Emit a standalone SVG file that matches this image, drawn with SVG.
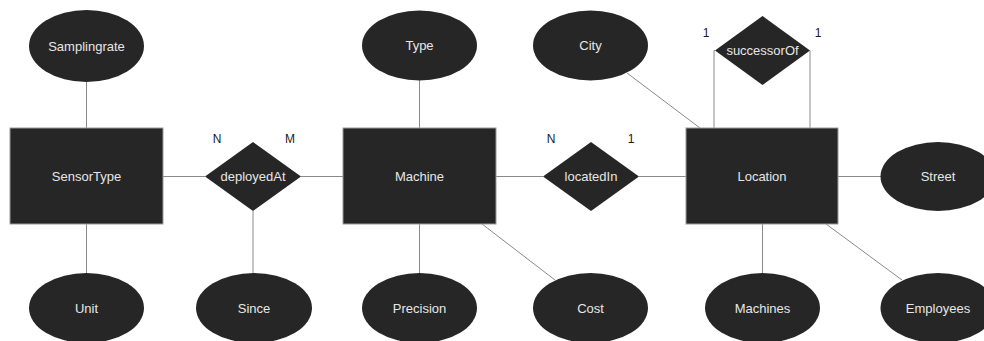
<svg xmlns="http://www.w3.org/2000/svg" width="984" height="341" viewBox="0 0 984 341">
  <style>
    .ent { fill: #262626; stroke: #9a9a9a; stroke-width: 1; }
    .rel { fill: #262626; }
    .att { fill: #262626; }
    .lbl { font-family: "Liberation Sans", Arial, sans-serif; font-size: 13px; fill: #e6e6e6; text-anchor: middle; dominant-baseline: central; }
    .card { font-family: "Liberation Sans", Arial, sans-serif; font-size: 12px; fill: #1a1a1a; text-anchor: middle; dominant-baseline: central; }
    .conn line, .conn polyline { stroke: #8a8a8a; stroke-width: 1; fill: none; }
  </style>
  <rect width="984" height="341" fill="#ffffff"/>

  <!-- connectors -->
  <g id="connectors" class="conn">
    <line x1="86.5" y1="82" x2="86.5" y2="128"/>
    <line x1="86.5" y1="224" x2="86.5" y2="273"/>
    <line x1="163" y1="176.5" x2="205" y2="176.5"/>
    <line x1="301" y1="176.5" x2="343" y2="176.5"/>
    <line x1="253" y1="211" x2="253" y2="273"/>
    <line x1="419.5" y1="80" x2="419.5" y2="128"/>
    <line x1="419.5" y1="224" x2="419.5" y2="273"/>
    <line x1="482" y1="224" x2="555" y2="280"/>
    <line x1="496" y1="176.5" x2="543" y2="176.5"/>
    <line x1="639" y1="176.5" x2="686" y2="176.5"/>
    <line x1="627" y1="73" x2="700" y2="128"/>
    <polyline points="714,128 714,50.5 715,50.5"/>
    <polyline points="810,128 810,50.5"/>
    <line x1="838" y1="176.5" x2="881" y2="176.5"/>
    <line x1="762.5" y1="224" x2="762.5" y2="273"/>
    <line x1="826" y1="224" x2="902" y2="280"/>
  </g>

  <!-- entities -->
  <g id="SensorType">
    <rect class="ent" x="10" y="128" width="153" height="96"/>
    <text class="lbl" x="86.5" y="176.5">SensorType</text>
  </g>
  <g id="Machine">
    <rect class="ent" x="343" y="128" width="153" height="96"/>
    <text class="lbl" x="419.5" y="176.5">Machine</text>
  </g>
  <g id="Location">
    <rect class="ent" x="686" y="128" width="152" height="96"/>
    <text class="lbl" x="762" y="176.5">Location</text>
  </g>

  <!-- relationships -->
  <g id="deployedAt">
    <polygon class="rel" points="253,142 301,176.5 253,211 205,176.5"/>
    <text class="lbl" x="253" y="176.5">deployedAt</text>
  </g>
  <g id="locatedIn">
    <polygon class="rel" points="591,142 639,176.5 591,211 543,176.5"/>
    <text class="lbl" x="591" y="176.5">locatedIn</text>
  </g>
  <g id="successorOf">
    <polygon class="rel" points="762.5,16 810,50.5 762.5,85 715,50.5"/>
    <text class="lbl" x="762.5" y="50.5">successorOf</text>
  </g>

  <!-- attributes -->
  <g id="Samplingrate">
    <ellipse class="att" cx="86.5" cy="46" rx="57.5" ry="36"/>
    <text class="lbl" x="86.5" y="46">Samplingrate</text>
  </g>
  <g id="Unit">
    <ellipse class="att" cx="86.5" cy="308" rx="57.5" ry="35"/>
    <text class="lbl" x="86.5" y="308">Unit</text>
  </g>
  <g id="Since">
    <ellipse class="att" cx="254" cy="308" rx="58" ry="35"/>
    <text class="lbl" x="254" y="308">Since</text>
  </g>
  <g id="Type">
    <ellipse class="att" cx="419.5" cy="45.5" rx="57.5" ry="35"/>
    <text class="lbl" x="419.5" y="45.5">Type</text>
  </g>
  <g id="Precision">
    <ellipse class="att" cx="419.5" cy="308" rx="57.5" ry="35"/>
    <text class="lbl" x="419.5" y="308">Precision</text>
  </g>
  <g id="City">
    <ellipse class="att" cx="590.5" cy="45.5" rx="57.5" ry="35"/>
    <text class="lbl" x="590.5" y="45.5">City</text>
  </g>
  <g id="Cost">
    <ellipse class="att" cx="590.5" cy="308" rx="57.5" ry="35"/>
    <text class="lbl" x="590.5" y="308">Cost</text>
  </g>
  <g id="Street">
    <ellipse class="att" cx="938" cy="176.5" rx="57.5" ry="34.5"/>
    <text class="lbl" x="938" y="176.5">Street</text>
  </g>
  <g id="Machines">
    <ellipse class="att" cx="762.5" cy="308" rx="57.5" ry="35"/>
    <text class="lbl" x="762.5" y="308">Machines</text>
  </g>
  <g id="Employees">
    <ellipse class="att" cx="938" cy="308" rx="57.5" ry="35"/>
    <text class="lbl" x="938" y="308">Employees</text>
  </g>

  <!-- cardinalities -->
  <g id="cardinalities">
    <text class="card" x="217" y="139">N</text>
    <text class="card" x="290" y="139">M</text>
    <text class="card" x="551" y="139">N</text>
    <text class="card" x="631" y="139">1</text>
    <text class="card" x="706" y="33">1</text>
    <text class="card" x="818" y="33">1</text>
  </g>
</svg>
